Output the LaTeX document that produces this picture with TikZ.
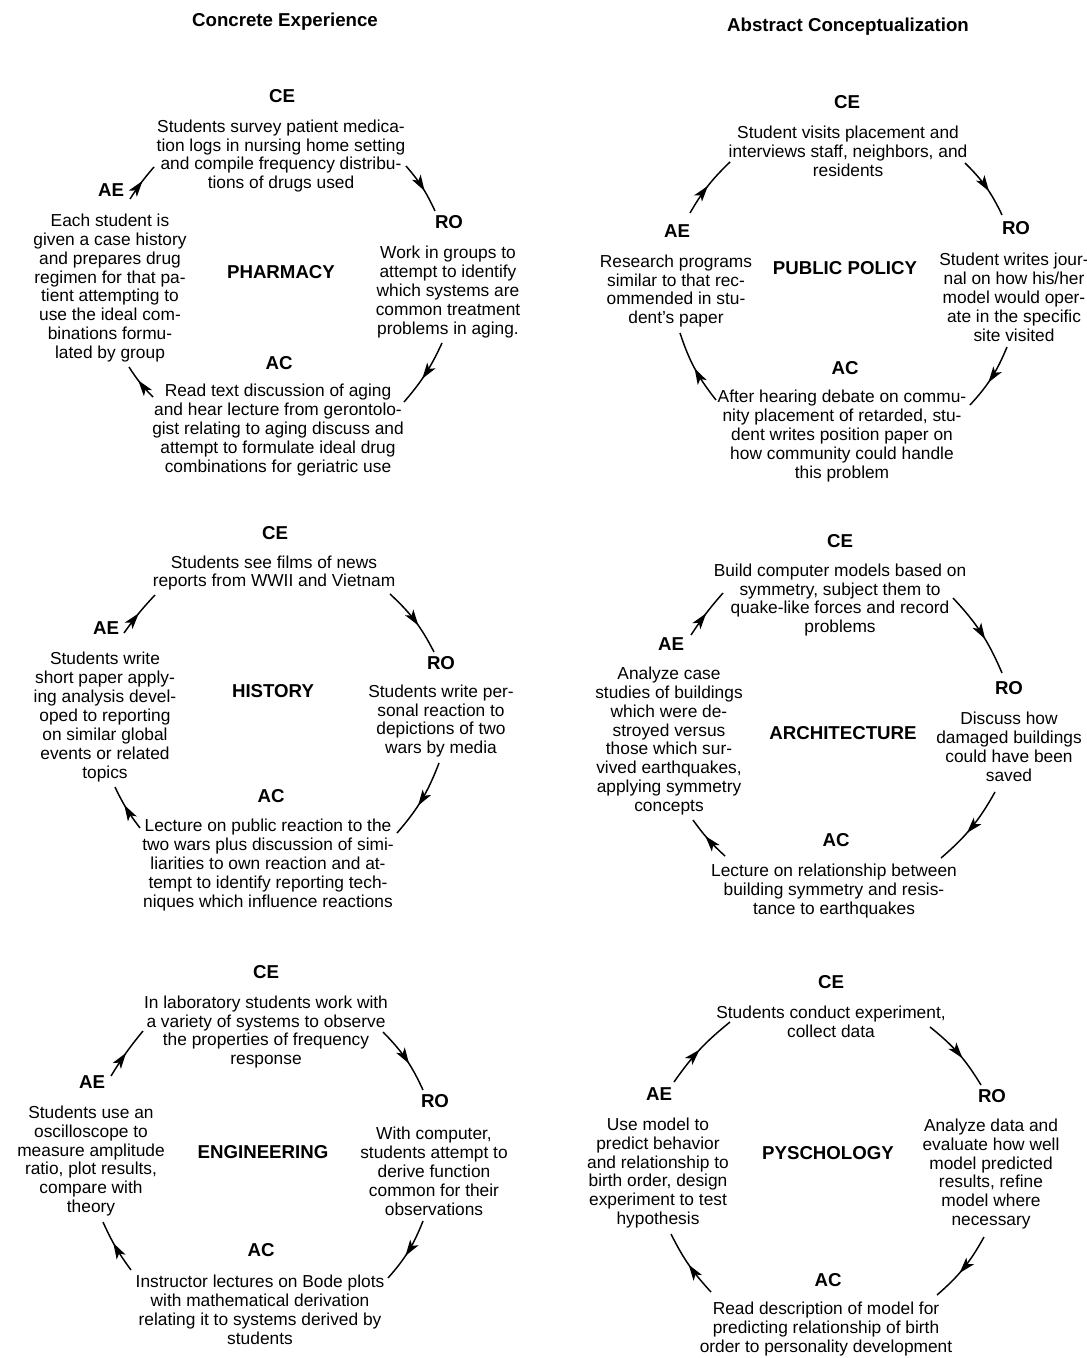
\documentclass[tikz,border=0pt]{standalone}
\usepackage{fontspec}
\setmainfont{Liberation Sans}
\usetikzlibrary{arrows.meta,decorations.markings}
\tikzset{
  body/.style={align=center, font=\fontsize{13}{14.2}\selectfont, inner sep=0pt},
  lbl/.style={font=\fontsize{14}{16}\selectfont\bfseries, inner sep=0pt},
  ttl/.style={font=\fontsize{14}{16}\selectfont\bfseries, inner sep=0pt},
  flow/.style={line width=1.1pt, postaction={decorate},
    decoration={markings, mark=at position #1 with {\arrow{Stealth[length=12pt,width=7.5pt,inset=3pt]}}}},
  flow/.default=0.58
}
\begin{document}
\begin{tikzpicture}[x=0.75pt,y=-0.75pt]
\useasboundingbox (0,0) rectangle (1087,1358);
\fill[white] (0,0) rectangle (1087,1358);

% ---------- titles
\node[ttl] (t1) at (285,22) {Concrete Experience};
\node[ttl] (t2) at (848,27) {Abstract Conceptualization};

% ---------- Panel 1: PHARMACY
\node[lbl] (ce1) at (282,96) {CE};
\node[body] (ce1t) at (281,156) {Students survey patient medica-\\tion logs in nursing home setting\\and compile frequency distribu-\\tions of drugs used};
\node[lbl] (ro1) at (449,222) {RO};
\node[body] (ro1t) at (448,292) {Work in groups to\\attempt to identify\\which systems are\\common treatment\\problems in aging.};
\node[lbl] (ac1) at (279,363) {AC};
\node[body] (ac1t) at (278,430) {Read text discussion of aging\\and hear lecture from gerontolo-\\gist relating to aging discuss and\\attempt to formulate ideal drug\\combinations for geriatric use};
\node[lbl] (ae1) at (111,190) {AE};
\node[body] (ae1t) at (110,288) {Each student is\\given a case history\\and prepares drug\\regimen for that pa-\\tient attempting to\\use the ideal com-\\binations formu-\\lated by group};
\node[lbl] (n1) at (281,272) {PHARMACY};
\coordinate (p1a) at (406,166); \coordinate (p1b) at (435,211);
\coordinate (p1c) at (442,343); \coordinate (p1d) at (404,402);
\coordinate (p1e) at (153,397); \coordinate (p1f) at (129,367);
\coordinate (p1g) at (130,199); \coordinate (p1h) at (154,167);
\draw[flow] (p1a) to[bend left=8] (p1b);
\draw[flow] (p1c) to[bend left=8] (p1d);
\draw[flow] (p1e) to[bend left=6] (p1f);
\draw[flow=0.55] (p1g) to[bend left=4] (p1h);

% ---------- Panel 2: PUBLIC POLICY
\node[lbl] (ce2) at (847,102) {CE};
\node[body] (ce2t) at (848,151) {Student visits placement and\\interviews staff, neighbors, and\\residents};
\node[lbl] (ro2) at (1016,228) {RO};
\node[body] (ro2t) at (1014,297) {Student writes jour-\\nal on how his/her\\model would oper-\\ate in the specific\\site visited};
\node[lbl] (ac2) at (845,368) {AC};
\node[body] (ac2t) at (842,436) {After hearing debate on commu-\\nity placement of retarded, stu-\\dent writes position paper on\\how community could handle\\this problem};
\node[lbl] (ae2) at (677,231) {AE};
\node[body] (ae2t) at (676,291) {Research programs\\similar to that rec-\\ommended in stu-\\dent's paper};
\node[lbl] (n2) at (845,268) {PUBLIC POLICY};
\coordinate (p2a) at (965,163); \coordinate (p2b) at (1002,215);
\coordinate (p2c) at (1007,347); \coordinate (p2d) at (970,405);
\coordinate (p2e) at (716,400); \coordinate (p2f) at (680,333);
\coordinate (p2g) at (690,213); \coordinate (p2h) at (730,162);
\draw[flow] (p2a) to[bend left=10] (p2b);
\draw[flow] (p2c) to[bend left=10] (p2d);
\draw[flow=0.5] (p2e) to[bend left=10] (p2f);
\draw[flow=0.5] (p2g) to[bend left=8] (p2h);

% ---------- Panel 3: HISTORY
\node[lbl] (ce3) at (275,533) {CE};
\node[body] (ce3t) at (274,573) {Students see films of news\\reports from WWII and Vietnam};
\node[lbl] (ro3) at (441,663) {RO};
\node[body] (ro3t) at (441,721) {Students write per-\\sonal reaction to\\depictions of two\\wars by media};
\node[lbl] (ac3) at (271,796) {AC};
\node[body] (ac3t) at (268,865) {Lecture on public reaction to the\\two wars plus discussion of simi-\\liarities to own reaction and at-\\tempt to identify reporting tech-\\niques which influence reactions};
\node[lbl] (ae3) at (106,628) {AE};
\node[body] (ae3t) at (105,717) {Students write\\short paper apply-\\ing analysis devel-\\oped to reporting\\on similar global\\events or related\\topics};
\node[lbl] (n3) at (273,691) {HISTORY};
\coordinate (p3a) at (390,594); \coordinate (p3b) at (434,652);
\coordinate (p3c) at (439,763); \coordinate (p3d) at (397,833);
\coordinate (p3e) at (140,828); \coordinate (p3f) at (115,787);
\coordinate (p3g) at (124,633); \coordinate (p3h) at (155,595);
\draw[flow] (p3a) to[bend left=10] (p3b);
\draw[flow] (p3c) to[bend left=10] (p3d);
\draw[flow] (p3e) to[bend left=6] (p3f);
\draw[flow=0.5] (p3g) to[bend left=4] (p3h);

% ---------- Panel 4: ARCHITECTURE
\node[lbl] (ce4) at (840,541) {CE};
\node[body] (ce4t) at (840,600) {Build computer models based on\\symmetry, subject them to\\quake-like forces and record\\problems};
\node[lbl] (ro4) at (1009,688) {RO};
\node[body] (ro4t) at (1009,747) {Discuss how\\damaged buildings\\could have been\\saved};
\node[lbl] (ac4) at (836,840) {AC};
\node[body] (ac4t) at (834,891) {Lecture on relationship between\\building symmetry and resis-\\tance to earthquakes};
\node[lbl] (ae4) at (671,644) {AE};
\node[body] (ae4t) at (669,741) {Analyze case\\studies of buildings\\which were de-\\stroyed versus\\those which sur-\\vived earthquakes,\\applying symmetry\\concepts};
\node[lbl] (n4) at (843,733) {ARCHITECTURE};
\coordinate (p4a) at (953,598); \coordinate (p4b) at (1002,673);
\coordinate (p4c) at (995,792); \coordinate (p4d) at (941,858);
\coordinate (p4e) at (725,856); \coordinate (p4f) at (693,820);
\coordinate (p4g) at (691,635); \coordinate (p4h) at (723,593);
\draw[flow] (p4a) to[bend left=10] (p4b);
\draw[flow] (p4c) to[bend left=10] (p4d);
\draw[flow] (p4e) to[bend left=6] (p4f);
\draw[flow=0.5] (p4g) to[bend left=4] (p4h);

% ---------- Panel 5: ENGINEERING
\node[lbl] (ce5) at (266,972) {CE};
\node[body] (ce5t) at (266,1032) {In laboratory students work with\\a variety of systems to observe\\the properties of frequency\\response};
\node[lbl] (ro5) at (435,1101) {RO};
\node[body] (ro5t) at (434,1171) {With computer,\\students attempt to\\derive function\\common for their\\observations};
\node[lbl] (ac5) at (261,1250) {AC};
\node[body] (ac5t) at (260,1310) {Instructor lectures on Bode plots\\with mathematical derivation\\relating it to systems derived by\\students};
\node[lbl] (ae5) at (92,1082) {AE};
\node[body] (ae5t) at (91,1161) {Students use an\\oscilloscope to\\measure amplitude\\ratio, plot results,\\compare with\\theory};
\node[lbl] (n5) at (263,1152) {ENGINEERING};
\coordinate (p5a) at (383,1032); \coordinate (p5b) at (423,1090);
\coordinate (p5c) at (423,1221); \coordinate (p5d) at (388,1278);
\coordinate (p5e) at (131,1270); \coordinate (p5f) at (103,1222);
\coordinate (p5g) at (111,1076); \coordinate (p5h) at (143,1031);
\draw[flow] (p5a) to[bend left=10] (p5b);
\draw[flow] (p5c) to[bend left=10] (p5d);
\draw[flow] (p5e) to[bend left=6] (p5f);
\draw[flow=0.5] (p5g) to[bend left=4] (p5h);

% ---------- Panel 6: PYSCHOLOGY
\node[lbl] (ce6) at (831,982) {CE};
\node[body] (ce6t) at (831,1022) {Students conduct experiment,\\collect data};
\node[lbl] (ro6) at (992,1096) {RO};
\node[body] (ro6t) at (991,1174) {Analyze data and\\evaluate how well\\model predicted\\results, refine\\model where\\necessary};
\node[lbl] (ac6) at (828,1280) {AC};
\node[body] (ac6t) at (826,1329) {Read description of model for\\predicting relationship of birth\\order to personality development};
\node[lbl] (ae6) at (659,1094) {AE};
\node[body] (ae6t) at (658,1173) {Use model to\\predict behavior\\and relationship to\\birth order, design\\experiment to test\\hypothesis};
\node[lbl] (n6) at (828,1153) {PYSCHOLOGY};
\coordinate (p6a) at (930,1027); \coordinate (p6b) at (981,1085);
\coordinate (p6c) at (984,1237); \coordinate (p6d) at (937,1295);
\coordinate (p6e) at (711,1292); \coordinate (p6f) at (671,1234);
\coordinate (p6g) at (674,1082); \coordinate (p6h) at (730,1022);
\draw[flow] (p6a) to[bend left=10] (p6b);
\draw[flow] (p6c) to[bend left=10] (p6d);
\draw[flow=0.5] (p6e) to[bend left=8] (p6f);
\draw[flow=0.5] (p6g) to[bend left=8] (p6h);
\end{tikzpicture}
\end{document}
